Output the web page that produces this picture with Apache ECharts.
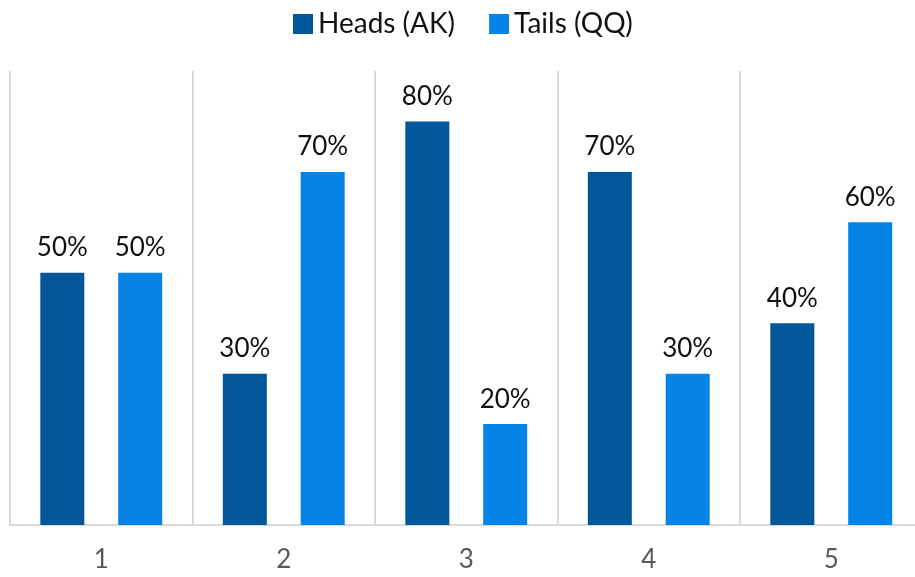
<!DOCTYPE html>
<html>
<head>
<meta charset="utf-8">
<script src="https://cdn.jsdelivr.net/npm/echarts@6/dist/echarts.min.js"></script>
<style>html,body{margin:0;padding:0;background:#fff;overflow:hidden;width:915px;height:577px}#c{width:926px;height:577px}</style>
</head>
<body>
<div id="c"></div>
<script>
const categories = ['1', '2', '3', '4', '5'];
const headsAK = [50, 30, 80, 70, 40];
const tailsQQ = [50, 70, 20, 30, 60];
const seriesNames = ['Heads (AK)', 'Tails (QQ)'];

const chart = echarts.init(document.getElementById('c'));
const labelStyle = {
  show: true, position: 'top', distance: 12,
  formatter: p => p.value + '%',
  fontFamily: 'Lato', fontSize: 26, color: '#111'
};
chart.setOption({
  animation: false,
  legend: {
    top: 5, left: 288,
    itemWidth: 20, itemHeight: 20, itemGap: 34,
    icon: 'rect',
    textStyle: { fontFamily: 'Lato', fontSize: 28, color: '#111' },
    data: seriesNames
  },
  grid: { left: 10, width: 912.5, top: 71, bottom: 52 },
  xAxis: {
    type: 'category', data: categories,
    axisLine: { show: true, lineStyle: { color: '#d9d9d9', width: 2 } },
    axisTick: { show: false },
    splitLine: { show: true, lineStyle: { color: '#d9d9d9', width: 2 } },
    axisLabel: { fontFamily: 'Lato', fontSize: 26, color: '#595959', margin: 22 }
  },
  yAxis: { type: 'value', min: 0, max: 90, show: false, splitLine: { show: false } },
  series: [
    { name: seriesNames[0], type: 'bar', data: headsAK, barWidth: 44, barGap: '77%',
      itemStyle: { color: '#02569A' }, label: labelStyle },
    { name: seriesNames[1], type: 'bar', data: tailsQQ, barWidth: 44,
      itemStyle: { color: '#0583E6' }, label: labelStyle }
  ]
});
</script>
</body>
</html>
